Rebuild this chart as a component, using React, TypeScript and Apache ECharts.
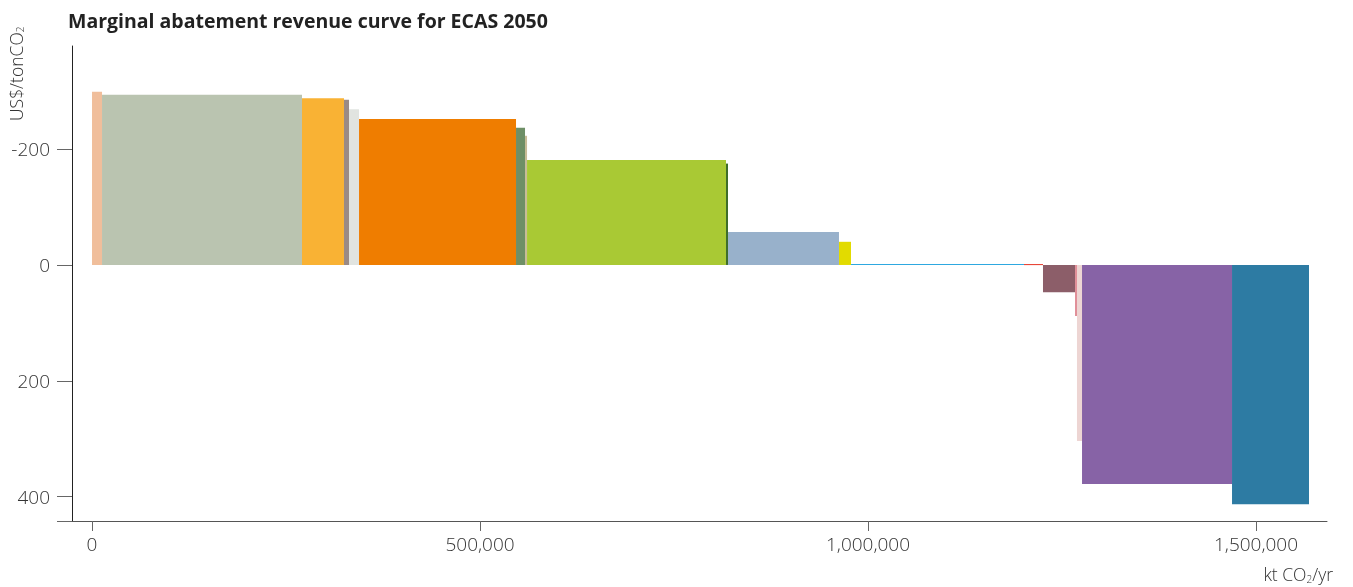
import React, { useEffect, useRef } from "react";
import * as echarts from "echarts";

// Abatement potential (kt CO2/yr) of each measure, in curve order
const potentials = [
  12900, 257700, 54100, 6500, 12900, 202300, 11600, 2600, 256400, 2600,
  143000, 15500, 222900, 24500, 41300, 2500, 6500, 193300, 99200,
];
// Marginal abatement cost (US$/tonCO2); negative = revenue
const costs = [
  -299, -294, -288, -285, -269, -252, -237, -223, -181, -175,
  -57, -40, -1.5, -1.5, 47, 88, 304, 378, 413,
];
const colors = [
  "#F0BE9B", "#BAC4B0", "#F9B234", "#9A8A85", "#E1E4E0", "#EF7D00", "#6E8F66",
  "#C8BC97", "#A9C934", "#3F6E2A", "#98B1CB", "#E2DB00", "#2EA8E0", "#E63323",
  "#8C5E69", "#E08C96", "#EDD5D3", "#8763A6", "#2D7BA3",
];
const xTicks = [0, 500000, 1000000, 1500000];
const yTicks = [-200, 0, 200, 400];

export default function App() {
  const ref = useRef<HTMLDivElement>(null);
  useEffect(() => {
    if (!ref.current) return;
    const chart = echarts.init(ref.current, null, { renderer: "svg" });
    let acc = 0;
    const data = potentials.map((w, i) => {
      const start = acc;
      acc += w;
      return [start, acc, costs[i]];
    });
    const font = "'Open Sans', sans-serif";
    const yMin = -378;
    const yMax = 442;
    const sub = { fontSize: 10, fontFamily: font, fontWeight: 300, fill: "#333", verticalAlign: "bottom", padding: [9, 0, 0, 0] };
    chart.setOption({
      animation: false,
      title: {
        text: "Marginal abatement revenue curve for ECAS 2050",
        left: 63,
        top: 5,
        textStyle: { fontFamily: font, fontSize: 19.5, fontWeight: "bold", color: "#222" },
      },
      grid: { left: 72, right: 26, top: 46, bottom: 66 },
      xAxis: {
        type: "value",
        min: -25800,
        max: 1591500,
        axisLine: { show: true, onZero: false, lineStyle: { color: "#555", width: 1 } },
        axisTick: { show: true, customValues: xTicks, length: 10, lineStyle: { color: "#666" } },
        axisLabel: {
          customValues: xTicks,
          formatter: (v: number) => v.toLocaleString("en-US"),
          fontFamily: font,
          fontWeight: 300,
          fontSize: 19,
          color: "#333",
          margin: 13,
        },
        splitLine: { show: false },
      },
      yAxis: {
        type: "value",
        inverse: true,
        min: yMin,
        max: yMax,
        axisLine: { show: true, onZero: false, lineStyle: { color: "#222", width: 1 } },
        axisTick: {
          show: true,
          customValues: [...yTicks, yMax],
          length: 15,
          lineStyle: { color: "#666" },
        },
        axisLabel: {
          customValues: yTicks,
          fontFamily: font,
          fontWeight: 300,
          fontSize: 19,
          color: "#333",
          margin: 22,
        },
        splitLine: { show: false },
      },
      graphic: [
        {
          type: "text",
          x: 6,
          y: 121,
          rotation: Math.PI / 2,
          style: {
            text: "US$/tonCO{s|2}",
            fontFamily: font,
            fontWeight: 300,
            fontSize: 17.5,
            fill: "#333",
            rich: { s: sub },
          },
        },
        {
          type: "text",
          right: 20,
          top: 565,
          style: {
            text: "kt CO{s|2}/yr",
            fontFamily: font,
            fontWeight: 300,
            fontSize: 17.5,
            fill: "#333",
            rich: { s: sub },
          },
        },
      ],
      series: [
        {
          type: "custom",
          data,
          encode: { x: [0, 1], y: 2 },
          renderItem: (params: any, api: any) => {
            const x0 = api.value(0);
            const x1 = api.value(1);
            const v = api.value(2);
            const p0 = api.coord([x0, 0]);
            const p1 = api.coord([x1, v]);
            return {
              type: "rect",
              shape: {
                x: p0[0],
                y: Math.min(p0[1], p1[1]),
                width: p1[0] - p0[0],
                height: Math.max(Math.abs(p1[1] - p0[1]), 1),
              },
              style: { fill: colors[params.dataIndex] },
            };
          },
        },
      ],
    });
    return () => chart.dispose();
  }, []);
  return (
    <div
      ref={ref}
      style={{ position: "fixed", left: 0, top: 0, width: 1353, height: 587 }}
    />
  );
}
